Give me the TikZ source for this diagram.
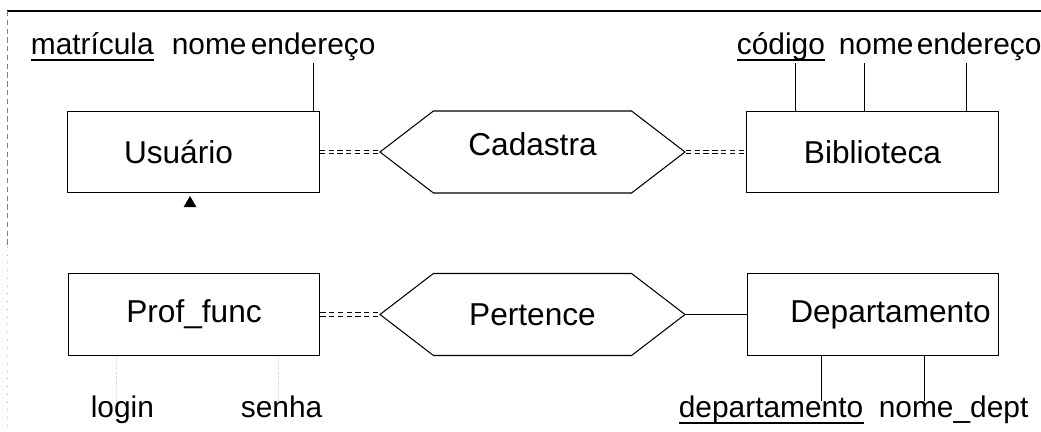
\documentclass[tikz,border=0pt]{standalone}
\usepackage{fontspec}
\setmainfont{Liberation Sans}
\usetikzlibrary{positioning,shapes.geometric,shapes.symbols}

\tikzset{
  entidade/.style={draw, line width=0.6pt, minimum width=5.03cm, minimum height=1.63cm, inner sep=0pt,
    font=\fontsize{18}{21}\selectfont},
  relac/.style={draw, line width=0.6pt, signal, signal to=west and east, signal pointer angle=75,
    minimum width=6.1cm, minimum height=1.64cm, inner sep=0pt, font=\fontsize{18}{21}\selectfont},
  atrib/.style={anchor=base west, inner sep=2pt, text height=0.75em, text depth=0.25em},
  ligacao/.style={line width=0.5pt},
  total/.style={double, double distance=1.6pt, line width=0.4pt, densely dashed},
  chave/.style={line width=0.9pt},
  triang/.style={regular polygon, regular polygon sides=3, fill, inner sep=0pt, minimum size=0.3cm}
}

\begin{document}
\begin{tikzpicture}[font=\fontsize{17}{20}\selectfont]
    \useasboundingbox (0,0) rectangle (20.82,8.64);

    % moldura
    \draw[line width=1pt] (0.14,8.42) -- (20.82,8.42);
    \draw[gray, densely dashed] (0.14,8.42) -- (0.14,3.7);
    \draw[gray!60, loosely dotted] (0.14,3.7) -- (0.14,0);

    % entidades e relacionamentos
    \node[entidade] (usuario)      at ( 3.87, 5.6)  {\hspace*{-0.6cm}Usuário};
    \node[entidade] (biblioteca)   at (17.45, 5.6)  {Biblioteca};
    \node[entidade] (proffunc)     at ( 3.88, 2.35) {Prof\_func};
    \node[entidade] (departamento) at (17.46, 2.35) {\hspace*{0.7cm}Departamento};

    \node[relac, text height=0.31cm, text depth=0.15cm] (cadastra) at (10.65, 5.6) {Cadastra};
    \node[relac] (pertence) at (10.65, 2.35) {Pertence};

    \node[triang, below=0.04cm of usuario, xshift=-0.07cm] (seta) {};

    % atributos
    \node[atrib] (matricula) at ( 0.54, 7.54) {matrícula};
    \node[atrib] (nomeU)     at ( 3.36, 7.54) {nome};
    \node[atrib] (enderecoU) at ( 4.94, 7.54) {endereço};
    \node[atrib] (codigo)    at (14.66, 7.54) {código};
    \node[atrib] (nomeB)     at (16.70, 7.54) {nome};
    \node[atrib] (enderecoB) at (18.26, 7.54) {endereço};
    \node[atrib] (login)     at ( 1.74, 0.28) {login};
    \node[atrib] (senha)     at ( 4.74, 0.28) {senha};
    \node[atrib] (codDept)   at (13.50, 0.28) {departamento};
    \node[atrib] (nomeDept)  at (17.50, 0.28) {nome\_dept};

    \draw[chave] ([xshift=2pt,yshift=-3pt]matricula.base west) -- ([xshift=-2pt,yshift=-3pt]matricula.base east);
    \draw[chave] ([xshift=2pt,yshift=-3pt]codigo.base west) -- ([xshift=-2pt,yshift=-3pt]codigo.base east);
    \draw[chave] ([xshift=2pt,yshift=-3pt]codDept.base west) -- ([xshift=-2pt,yshift=-3pt]codDept.base east);

    \draw[ligacao] (enderecoU.south) -- (enderecoU.south |- usuario.north);
    \draw[ligacao] ([xshift=0.3cm]codigo.south) -- ([xshift=0.3cm]codigo.south |- biblioteca.north);
    \draw[ligacao] ([xshift=-0.23cm]nomeB.south) -- ([xshift=-0.23cm]nomeB.south |- biblioteca.north);
    \draw[ligacao] ([xshift=-0.25cm]enderecoB.south) -- ([xshift=-0.25cm]enderecoB.south |- biblioteca.north);
    \draw[ligacao] ([xshift=1cm]codDept.north) -- ([xshift=1cm]codDept.north |- departamento.south);
    \draw[ligacao] ([xshift=-0.58cm]nomeDept.north) -- ([xshift=-0.58cm]nomeDept.north |- departamento.south);
    \draw[gray!40, densely dotted] ([xshift=-0.13cm]login.north) -- ([xshift=-0.13cm]login.north |- proffunc.south);
    \draw[gray!40, densely dotted] ([xshift=-0.06cm]senha.north) -- ([xshift=-0.06cm]senha.north |- proffunc.south);

    % ligacoes
    \draw[total] (usuario.east) -- (cadastra.west);
    \draw[total] (cadastra.east) -- (biblioteca.west);
    \draw[total] (proffunc.east) -- (pertence.west);
    \draw[ligacao] (pertence.east) -- (departamento.west);

\end{tikzpicture}
\end{document}
